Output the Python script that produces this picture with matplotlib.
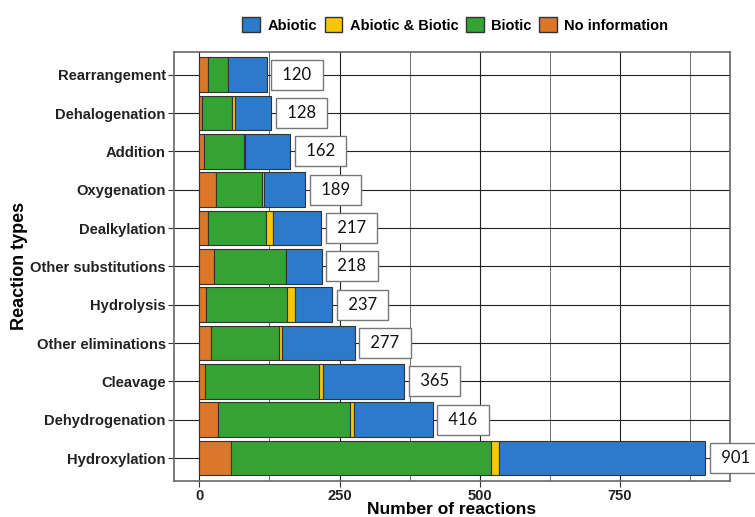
import numpy as np
import matplotlib.pyplot as plt
from matplotlib.patches import Patch
from matplotlib.ticker import MultipleLocator

# reaction types, top to bottom
types = ['Rearrangement', 'Dehalogenation', 'Addition', 'Oxygenation', 'Dealkylation',
         'Other substitutions', 'Hydrolysis', 'Other eliminations', 'Cleavage',
         'Dehydrogenation', 'Hydroxylation']

no_info = [15, 4, 8, 30, 15, 26, 12, 21, 10, 34, 56]
biotic = [37, 55, 72, 82, 104, 128, 145, 121, 203, 234, 464]
ab_bio = [0, 5, 2, 4, 13, 0, 13, 6, 7, 8, 14]
abiotic = [68, 64, 80, 73, 85, 64, 67, 129, 145, 140, 367]
totals = [120, 128, 162, 189, 217, 218, 237, 277, 365, 416, 901]

c_abio = '#2C7BCA'
c_ab = '#F6C607'
c_bio = '#34A334'
c_no = '#DC7628'

fig = plt.figure(figsize=(7.55, 5.17), dpi=100)
ax = fig.add_axes([0.2305, 0.0696, 0.7365, 0.8304])

y = np.arange(len(types))
left = np.zeros(len(types))
for vals, col in [(no_info, c_no), (biotic, c_bio), (ab_bio, c_ab), (abiotic, c_abio)]:
    ax.barh(y, vals, left=left, height=0.9, color=col, edgecolor='#333333', linewidth=0.8, zorder=3)
    left = left + np.array(vals)

for i, t in enumerate(totals):
    ax.text(t + 21, i, ' %d ' % t, ha='left', va='center', fontsize=12, family='Lato',
            color='#111111', zorder=5, clip_on=False,
            bbox=dict(boxstyle='square,pad=0.42', fc='white', ec='#777777', lw=1.0))

ax.set_xlim(-45, 946)
ax.set_ylim(len(types) - 0.4, -0.6)
ax.set_yticks(y)
ax.set_yticklabels(types)
ax.set_xticks([0, 250, 500, 750])
ax.xaxis.set_minor_locator(MultipleLocator(125))
ax.tick_params(axis='x', which='minor', length=0)
ax.tick_params(which='major', length=4, width=0.8, color='#333333')
ax.tick_params(axis='y', pad=2)
ax.tick_params(axis='x', pad=2)
for lab in ax.get_xticklabels() + ax.get_yticklabels():
    lab.set_fontweight('bold')
    lab.set_fontsize(10.6)
    lab.set_family('Liberation Sans')
    lab.set_color('#222222')

ax.set_axisbelow(True)
ax.grid(which='major', color='#222222', linewidth=0.8, zorder=0)
ax.grid(which='minor', axis='x', color='#555555', linewidth=0.6, zorder=0)
for s in ax.spines.values():
    s.set_color('#666666')
    s.set_linewidth(1.2)

ax.set_xlabel('Number of reactions', fontsize=12.5, fontweight='bold', family='Liberation Sans')
ax.set_ylabel('Reaction types', fontsize=13, fontweight='bold', family='Liberation Sans')
ax.xaxis.set_label_coords(0.5, -0.05)
ax.yaxis.set_label_coords(-0.262, 0.5)

handles = [Patch(fc=c_abio, ec='#333333', label='Abiotic'),
           Patch(fc=c_ab, ec='#333333', label='Abiotic & Biotic'),
           Patch(fc=c_bio, ec='#333333', label='Biotic'),
           Patch(fc=c_no, ec='#333333', label='No information')]
fig.legend(handles=handles, loc='center', bbox_to_anchor=(0.603, 0.952), ncol=4, frameon=False,
           prop={'family': 'Liberation Sans', 'weight': 'bold', 'size': 10.5},
           handlelength=1.2, handleheight=1.2, handletextpad=0.5, columnspacing=0.55)

fig.savefig('out.png', dpi=100)
